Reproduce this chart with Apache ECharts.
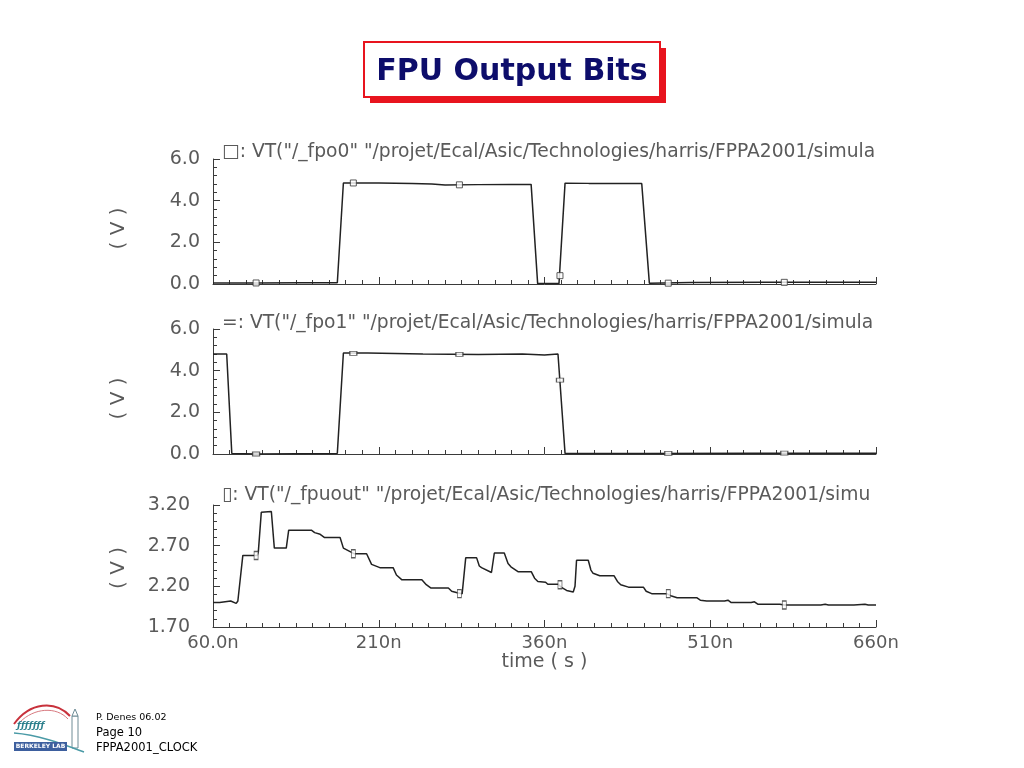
<!DOCTYPE html>
<html><head><meta charset="utf-8">
<script src="https://cdn.jsdelivr.net/npm/echarts@6/dist/echarts.min.js"></script>
<style>html,body{margin:0;padding:0;background:#fff}#c{width:1024px;height:768px}</style>
</head><body><div id="c"></div>
<script>
// ---- data (time in ns, voltage in V) ----
const timeTickLabels = ['60.0n', '210n', '360n', '510n', '660n'];

const fpo0Time = [60, 100, 140, 172.5, 178, 210, 240, 258, 270, 300, 330, 347.9, 353.8, 373.1, 378.6, 400, 448, 454.9, 492, 560, 600, 660];
const fpo0Volt = [0.05, 0.05, 0.06, 0.06, 4.85, 4.85, 4.82, 4.8, 4.75, 4.77, 4.78, 4.78, 0.02, 0.02, 4.84, 4.83, 4.82, 0.04, 0.07, 0.08, 0.08, 0.08];

const fpo1Time = [60, 72.4, 77, 100, 172.5, 178, 200, 250, 300, 340, 360, 372.2, 378.6, 450, 550, 660];
const fpo1Volt = [4.8, 4.8, 0.03, 0.0, 0.03, 4.85, 4.85, 4.8, 4.78, 4.8, 4.75, 4.8, 0.03, 0.03, 0.04, 0.04];

const fpuoutTime = [60, 66, 76, 81, 82.5, 87, 100, 101, 103.7, 112.8, 115.5, 126.3, 128.5, 149, 152, 157, 161, 175, 178, 188, 199, 203.5, 211, 223, 226, 231, 249, 253, 257, 273, 276, 281, 285.5, 288.7, 298.6, 301, 303, 312, 314.6, 323.6, 327, 329.6, 336, 348, 351, 354, 361, 363, 372.5, 375, 380, 386, 387.6, 389, 399.6, 402, 404, 410, 423, 426, 429, 436, 449.5, 452, 457, 470.6, 475, 480, 497.7, 501, 506.8, 523, 526, 529, 547, 550, 553, 573, 577, 610, 614, 617, 640, 650, 653, 660];
const fpuoutVolt = [2.00, 2.00, 2.02, 1.99, 2.02, 2.58, 2.58, 2.62, 3.11, 3.12, 2.67, 2.67, 2.89, 2.89, 2.86, 2.84, 2.80, 2.80, 2.67, 2.60, 2.60, 2.47, 2.43, 2.43, 2.34, 2.28, 2.28, 2.22, 2.18, 2.18, 2.14, 2.12, 2.11, 2.55, 2.55, 2.45, 2.43, 2.37, 2.61, 2.61, 2.48, 2.44, 2.38, 2.38, 2.30, 2.26, 2.25, 2.225, 2.225, 2.19, 2.15, 2.13, 2.20, 2.52, 2.52, 2.40, 2.36, 2.33, 2.33, 2.26, 2.22, 2.19, 2.19, 2.14, 2.11, 2.11, 2.08, 2.06, 2.06, 2.03, 2.02, 2.02, 2.03, 2.00, 2.00, 2.01, 1.98, 1.98, 1.97, 1.97, 1.98, 1.97, 1.97, 1.98, 1.97, 1.97];

const markerTime = [99, 187, 283, 374, 472, 577];
const fpo0MarkerVolt = [0.05, 4.85, 4.76, 0.4, 0.04, 0.08];
const fpo1MarkerVolt = [0.0, 4.83, 4.78, 3.55, 0.03, 0.04];
const fpuoutMarkerVolt = [2.58, 2.60, 2.11, 2.22, 2.11, 1.97];

const legendTexts = [
  '\u25A1: VT("/_fpo0" "/projet/Ecal/Asic/Technologies/harris/FPPA2001/simula',
  '=: VT("/_fpo1" "/projet/Ecal/Asic/Technologies/harris/FPPA2001/simula',
  '\u25AF: VT("/_fpuout" "/projet/Ecal/Asic/Technologies/harris/FPPA2001/simu'
];

// ---- helpers ----
const zip = (a, b) => a.map((t, i) => [t, b[i]]);
const FONT = '"DejaVu Sans", sans-serif';
const AX = '#3a3a3a';
const TXT = '#5a5a5a';

function xAxis(gridIndex, showLabels) {
  return {
    type: 'value', gridIndex, min: 60, max: 660, interval: 150,
    axisLine: { show: true, onZero: false, lineStyle: { color: AX, width: 1 } },
    axisTick: { show: true, inside: true, length: 7, lineStyle: { color: AX } },
    minorTick: { show: true, splitNumber: 10, length: 4, lineStyle: { color: AX } },
    splitLine: { show: false },
    axisLabel: {
      show: showLabels, color: TXT, fontFamily: FONT, fontSize: 18, margin: 7,
      formatter: v => timeTickLabels[Math.round((v - 60) / 150)]
    },
    name: showLabels ? 'time ( s )' : '', nameLocation: 'middle', nameGap: 24,
    nameTextStyle: { color: TXT, fontFamily: FONT, fontSize: 19 }
  };
}
function yAxis(gridIndex, min, max, interval, digits, margin, splitN, namePad) {
  return {
    type: 'value', gridIndex, min, max, interval,
    axisLine: { show: true, onZero: false, lineStyle: { color: AX, width: 1 } },
    axisTick: { show: true, inside: true, length: 7, lineStyle: { color: AX } },
    minorTick: { show: true, splitNumber: splitN, length: 4, lineStyle: { color: AX } },
    splitLine: { show: false },
    axisLabel: { color: TXT, fontFamily: FONT, fontSize: 19, margin, formatter: v => v.toFixed(digits) },
    name: '( V )', nameLocation: 'middle', nameRotate: 90, nameGap: 84,
    nameTextStyle: { color: TXT, fontFamily: FONT, fontSize: 20, padding: namePad }
  };
}
function lineSeries(idx, t, v) {
  return {
    type: 'line', xAxisIndex: idx, yAxisIndex: idx, data: zip(t, v),
    symbol: 'none', animation: false,
    lineStyle: { color: '#222', width: 1.5 }
  };
}
function markerSeries(idx, v, size) {
  return {
    type: 'scatter', xAxisIndex: idx, yAxisIndex: idx, data: zip(markerTime, v),
    symbol: 'rect', symbolSize: size, animation: false, z: 3,
    itemStyle: { color: '#fff', borderColor: '#333', borderWidth: 1 }
  };
}
const legendStyle = { fontFamily: FONT, fontWeight: 'normal', fontSize: 18.7, color: TXT };

const chart = echarts.init(document.getElementById('c'), null, { renderer: 'canvas' });
chart.setOption({
  backgroundColor: '#fff',
  animation: false,
  title: [
    { text: 'FPU Output Bits', left: 'center', top: 52,
      textStyle: { fontFamily: FONT, fontWeight: 'bold', fontSize: 30, color: '#0d0d6b' } },
    { text: legendTexts[0], left: 217, top: 138, textStyle: legendStyle },
    { text: legendTexts[1], left: 217, top: 309, textStyle: legendStyle },
    { text: legendTexts[2], left: 217, top: 481, textStyle: legendStyle }
  ],
  grid: [
    { left: 213, width: 663, top: 159, height: 125 },
    { left: 213, width: 663, top: 329, height: 125 },
    { left: 213, width: 663, top: 505, height: 122 }
  ],
  xAxis: [xAxis(0, false), xAxis(1, false), xAxis(2, true)],
  yAxis: [
    yAxis(0, 0, 6, 2, 1, 13, 5, [0, 14, 0, 0]),
    yAxis(1, 0, 6, 2, 1, 13, 5, [0, 14, 0, 0]),
    yAxis(2, 1.7, 3.2, 0.5, 2, 23, 5, [0, 4, 0, 0])
  ],
  series: [
    lineSeries(0, fpo0Time, fpo0Volt),
    lineSeries(1, fpo1Time, fpo1Volt),
    lineSeries(2, fpuoutTime, fpuoutVolt),
    markerSeries(0, fpo0MarkerVolt, [6, 6]),
    markerSeries(1, fpo1MarkerVolt, [7, 4]),
    markerSeries(2, fpuoutMarkerVolt, [4, 8])
  ],
  graphic: [
    // title box with red drop shadow
    { type: 'rect', z: -2, shape: { x: 370, y: 48, width: 296, height: 55 }, style: { fill: '#e8141e' } },
    { type: 'rect', z: -1, shape: { x: 364, y: 42, width: 296, height: 55 }, style: { fill: '#ffffff', stroke: '#e8141e', lineWidth: 2 } },
    // Berkeley Lab logo (approximation)
    { type: 'bezierCurve', shape: { x1: 14, y1: 724, x2: 70, y2: 716, cpx1: 30, cpy1: 702, cpx2: 55, cpy2: 700 }, style: { stroke: '#c8323c', lineWidth: 2, fill: 'none' } },
    { type: 'bezierCurve', shape: { x1: 20, y1: 722, x2: 68, y2: 719, cpx1: 34, cpy1: 708, cpx2: 56, cpy2: 706 }, style: { stroke: '#d87a80', lineWidth: 1, fill: 'none' } },
    { type: 'text', left: 17, top: 721, style: { text: '\u0192\u0192\u0192\u0192\u0192\u0192\u0192', font: 'italic bold 9px "DejaVu Sans"', fill: '#2b7f8c' } },
    { type: 'rect', shape: { x: 72, y: 716, width: 6, height: 32 }, style: { fill: '#fff', stroke: '#6e8c96', lineWidth: 1 } },
    { type: 'polygon', shape: { points: [[72, 716], [75, 709], [78, 716]] }, style: { fill: '#fff', stroke: '#6e8c96', lineWidth: 1 } },
    { type: 'bezierCurve', shape: { x1: 14, y1: 733, x2: 84, y2: 752, cpx1: 40, cpy1: 735, cpx2: 65, cpy2: 745 }, style: { stroke: '#4a9aa6', lineWidth: 1.5, fill: 'none' } },
    { type: 'rect', shape: { x: 14, y: 742, width: 53, height: 9 }, style: { fill: '#3d5f9e' } },
    { type: 'text', x: 40.5, y: 746.5, style: { text: 'BERKELEY LAB', font: 'bold 6px "DejaVu Sans"', fill: '#ffffff', align: 'center', verticalAlign: 'middle' } },
    // footer text
    { type: 'text', left: 96, top: 713, style: { text: 'P. Denes 06.02', font: '9.5px "DejaVu Sans"', fill: '#000' } },
    { type: 'text', left: 96, top: 727, style: { text: 'Page 10', font: '11.5px "DejaVu Sans"', fill: '#000' } },
    { type: 'text', left: 96, top: 742, style: { text: 'FPPA2001_CLOCK', font: '11.5px "DejaVu Sans"', fill: '#000' } }
  ]
});
</script>
</body></html>
